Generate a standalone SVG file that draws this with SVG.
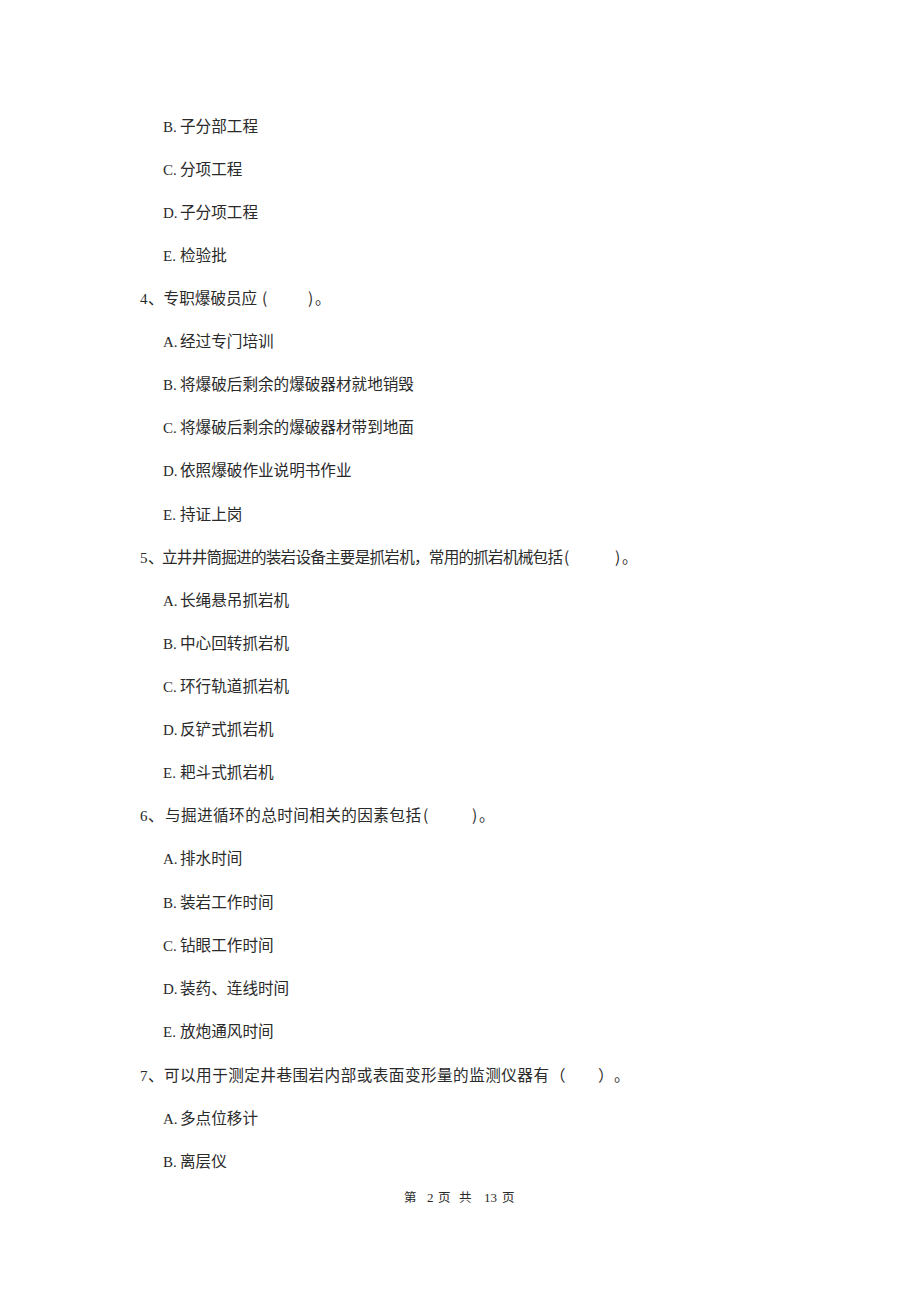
<svg xmlns="http://www.w3.org/2000/svg" width="920" height="1302" viewBox="0 0 920 1302">
<style>
.l{font-family:"Liberation Serif",serif;font-size:15px;fill:#2a2a2a}
.c{font-family:"Noto Sans CJK SC",sans-serif;font-size:15.6px;fill:#2a2a2a}
.f{font-family:"Noto Sans CJK SC",sans-serif;font-size:12.5px;fill:#2a2a2a}
.fn{font-family:"Liberation Serif",serif;font-size:13px;fill:#2a2a2a}
</style>
<rect width="920" height="1302" fill="#ffffff"/>
<g id="q3-options">
<text class="l" x="163" y="132">B.</text><text class="c" x="180" y="132">子分部工程</text>
<text class="l" x="163" y="175">C.</text><text class="c" x="180" y="175">分项工程</text>
<text class="l" x="163" y="218">D.</text><text class="c" x="180" y="218">子分项工程</text>
<text class="l" x="163" y="261">E.</text><text class="c" x="180" y="261">检验批</text>
</g>
<g id="q4">
<text class="l" x="140" y="304">4</text><text class="c" x="148" y="304">、专职爆破员应</text>
<text class="c" x="262" y="304">(</text><text class="c" x="308" y="304">)</text><text class="c" x="315" y="304">。</text>
<text class="l" x="163" y="347">A.</text><text class="c" x="180" y="347">经过专门培训</text>
<text class="l" x="163" y="390">B.</text><text class="c" x="180" y="390">将爆破后剩余的爆破器材就地销毁</text>
<text class="l" x="163" y="433">C.</text><text class="c" x="180" y="433">将爆破后剩余的爆破器材带到地面</text>
<text class="l" x="163" y="476">D.</text><text class="c" x="180" y="476">依照爆破作业说明书作业</text>
<text class="l" x="163" y="520">E.</text><text class="c" x="180" y="520">持证上岗</text>
</g>
<g id="q5">
<text class="l" x="140" y="563">5</text><text class="c" x="148" y="563">、</text>
<text class="c" x="162" y="563" textLength="401" lengthAdjust="spacing">立井井筒掘进的装岩设备主要是抓岩机，常用的抓岩机械包括</text>
<text class="c" x="564" y="563">(</text><text class="c" x="615" y="563">)</text><text class="c" x="622" y="563">。</text>
<text class="l" x="163" y="606">A.</text><text class="c" x="180" y="606">长绳悬吊抓岩机</text>
<text class="l" x="163" y="649">B.</text><text class="c" x="180" y="649">中心回转抓岩机</text>
<text class="l" x="163" y="692">C.</text><text class="c" x="180" y="692">环行轨道抓岩机</text>
<text class="l" x="163" y="735">D.</text><text class="c" x="180" y="735">反铲式抓岩机</text>
<text class="l" x="163" y="778">E.</text><text class="c" x="180" y="778">耙斗式抓岩机</text>
</g>
<g id="q6">
<text class="l" x="140" y="821">6</text><text class="c" x="148" y="821">、</text>
<text class="c" x="165" y="821" textLength="256" lengthAdjust="spacing">与掘进循环的总时间相关的因素包括</text>
<text class="c" x="423" y="821">(</text><text class="c" x="472" y="821">)</text><text class="c" x="479" y="821">。</text>
<text class="l" x="163" y="864">A.</text><text class="c" x="180" y="864">排水时间</text>
<text class="l" x="163" y="908">B.</text><text class="c" x="180" y="908">装岩工作时间</text>
<text class="l" x="163" y="951">C.</text><text class="c" x="180" y="951">钻眼工作时间</text>
<text class="l" x="163" y="994">D.</text><text class="c" x="180" y="994">装药、连线时间</text>
<text class="l" x="163" y="1037">E.</text><text class="c" x="180" y="1037">放炮通风时间</text>
</g>
<g id="q7">
<text class="l" x="140" y="1081">7</text><text class="c" x="148" y="1081">、</text>
<text class="c" x="164" y="1081" textLength="385" lengthAdjust="spacing">可以用于测定井巷围岩内部或表面变形量的监测仪器有</text>
<text class="c" x="550" y="1081">（</text><text class="c" x="598" y="1081">）</text><text class="c" x="614" y="1081">。</text>
<text class="l" x="163" y="1124">A.</text><text class="c" x="180" y="1124">多点位移计</text>
<text class="l" x="163" y="1167">B.</text><text class="c" x="180" y="1167">离层仪</text>
</g>
<g id="footer">
<text class="f" x="404" y="1202">第</text>
<text class="fn" x="427" y="1202">2</text>
<text class="f" x="438" y="1202">页</text>
<text class="f" x="459" y="1202">共</text>
<text class="fn" x="484" y="1202">13</text>
<text class="f" x="502" y="1202">页</text>
</g>
</svg>
